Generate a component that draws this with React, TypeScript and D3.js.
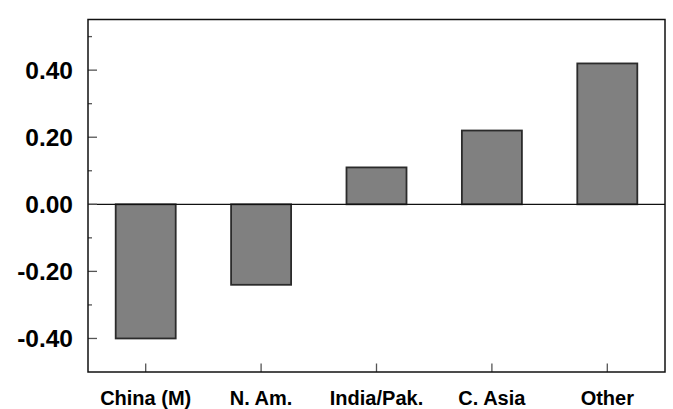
import React from 'react';
import * as d3 from 'd3';

const categories = ['China (M)', 'N. Am.', 'India/Pak.', 'C. Asia', 'Other'];
const values = [-0.40, -0.24, 0.11, 0.22, 0.42];
const majorTicks = [-0.4, -0.2, 0, 0.2, 0.4];
const minorTicks = [-0.3, -0.1, 0.1, 0.3, 0.5];

const W = 673;
const H = 409;
const margin = { top: 19.5, right: 8, bottom: 37, left: 88 };

const App = () => {
  const x = d3.scaleBand<string>()
    .domain(categories)
    .range([margin.left, W - margin.right])
    .paddingInner(0.48)
    .paddingOuter(0.24);

  const y = d3.scaleLinear()
    .domain([-0.5, 0.551])
    .range([H - margin.bottom, margin.top]);

  const x0 = margin.left;
  const x1 = W - margin.right;
  const y0 = margin.top;
  const y1 = H - margin.bottom;
  const font = 'Liberation Sans, Arial, sans-serif';

  return (
    <svg width={W} height={H} style={{ position: 'absolute', left: 0, top: 0, background: '#fff' }}>
      {/* bars */}
      {values.map((v, i) => (
        <rect
          key={categories[i]}
          x={x(categories[i])}
          y={y(Math.max(0, v))}
          width={x.bandwidth()}
          height={Math.abs(y(v) - y(0))}
          fill="#808080"
          stroke="#2b2b2b"
          strokeWidth={1.8}
        />
      ))}

      {/* zero line */}
      <line x1={x0} x2={x1} y1={y(0)} y2={y(0)} stroke="#111" strokeWidth={1.3} />

      {/* y ticks */}
      {majorTicks.map(t => (
        <g key={'M' + t}>
          <line x1={x0} x2={x0 + 9} y1={y(t)} y2={y(t)} stroke="#555" strokeWidth={1.3} />
          <text
            x={x0 - 15}
            y={y(t)}
            dy="0.36em"
            textAnchor="end"
            fontFamily={font}
            fontWeight="bold"
            fontSize={24.5}
            fill="#000"
          >
            {d3.format('.2f')(t).replace('−', '-')}
          </text>
        </g>
      ))}
      {minorTicks.map(t => (
        <line key={'m' + t} x1={x0} x2={x0 + 4} y1={y(t)} y2={y(t)} stroke="#555" strokeWidth={1.3} />
      ))}

      {/* x ticks and labels */}
      {categories.map(c => {
        const cx = (x(c) as number) + x.bandwidth() / 2;
        return (
          <g key={c}>
            <line x1={cx} x2={cx} y1={y1} y2={y1 - 8.5} stroke="#555" strokeWidth={1.3} />
            <text
              x={cx}
              y={404.5}
              textAnchor="middle"
              fontFamily={font}
              fontWeight="bold"
              fontSize={20}
              fill="#000"
            >
              {c}
            </text>
          </g>
        );
      })}

      {/* frame */}
      <rect x={x0} y={y0} width={x1 - x0} height={y1 - y0} fill="none" stroke="#111" strokeWidth={1.5} />
    </svg>
  );
};

export default App;
